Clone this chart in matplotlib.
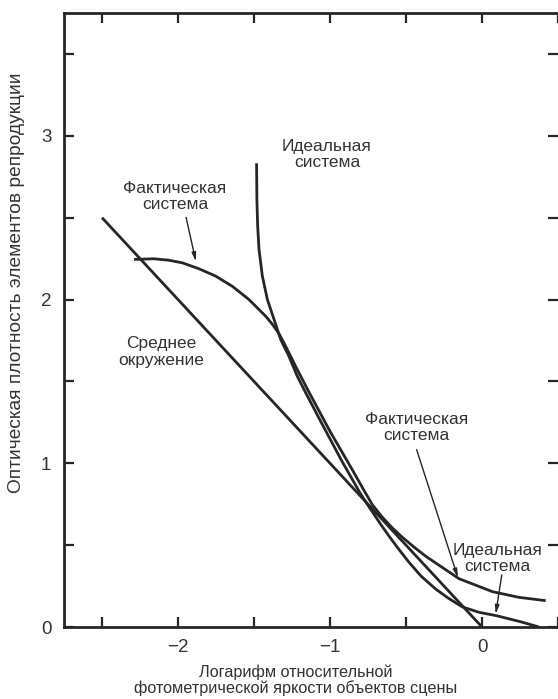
import matplotlib
matplotlib.use("Agg")
import matplotlib.pyplot as plt
from matplotlib.ticker import MultipleLocator, NullFormatter

plt.rcParams['font.family'] = ['Liberation Sans', 'DejaVu Sans']

# values
avg_x = [-2.5, 0.0]
avg_y = [2.5, 0.0]

ideal_x = [-1.483, -1.481, -1.476, -1.467, -1.445, -1.412, -1.368, -1.324, -1.270,
           -1.215, -1.165, -1.075, -0.920, -0.800, -0.735, -0.670, -0.610, -0.550,
           -0.480, -0.400, -0.305, -0.220, -0.130, -0.020, 0.100, 0.250, 0.375]
ideal_y = [2.832, 2.610, 2.450, 2.306, 2.143, 2.000, 1.878, 1.755, 1.653,
           1.531, 1.440, 1.280, 1.010, 0.815, 0.722, 0.632, 0.553, 0.478,
           0.395, 0.310, 0.232, 0.175, 0.123, 0.090, 0.068, 0.033, 0.0]

actual_x = [-2.289, -2.158, -2.060, -1.971, -1.862, -1.752, -1.643, -1.533, -1.423,
            -1.380, -1.336, -1.300, -1.265, -1.226, -1.150, -1.000, -0.850, -0.780,
            -0.720, -0.660, -0.590, -0.524, -0.450, -0.370, -0.300, -0.151, 0.068,
            0.243, 0.419]
actual_y = [2.245, 2.249, 2.240, 2.224, 2.188, 2.143, 2.081, 2.000, 1.898,
            1.850, 1.792, 1.730, 1.665, 1.592, 1.455, 1.195, 0.955, 0.840,
            0.745, 0.675, 0.605, 0.548, 0.490, 0.432, 0.388, 0.295, 0.216,
            0.181, 0.161]

x_major = [-2, -1, 0]
x_labels = ['\u22122', '\u22121', '0']
y_major = [0, 1, 2, 3]

ink = '#262626'
txt = '#333333'

fig = plt.figure(figsize=(5.58, 6.99), dpi=100)
ax = fig.add_axes([64 / 558, 72 / 699, 494 / 558, 614 / 699])

for xs, ys in ((avg_x, avg_y), (ideal_x, ideal_y), (actual_x, actual_y)):
    ax.plot(xs, ys, color=ink, lw=2.0, solid_capstyle='butt', solid_joinstyle='round')

ax.set_xlim(-2.75, 0.5)
ax.set_ylim(0, 3.75)

ax.set_xticks(x_major)
ax.set_xticklabels(x_labels)
ax.set_yticks(y_major)
ax.xaxis.set_minor_locator(MultipleLocator(0.5))
ax.yaxis.set_minor_locator(MultipleLocator(0.5))
ax.yaxis.set_minor_formatter(NullFormatter())
ax.xaxis.set_minor_formatter(NullFormatter())

for which in ('major', 'minor'):
    ax.tick_params(axis='both', which=which, direction='in', length=7, width=1.6,
                   color=ink, top=True, right=True, labelsize=13.5,
                   labelcolor=txt)
ax.tick_params(axis='x', which='major', pad=9)
ax.tick_params(axis='y', which='major', pad=9)

for side in ('left', 'top', 'bottom'):
    ax.spines[side].set_linewidth(2.0)
    ax.spines[side].set_color(ink)
ax.spines['right'].set_visible(False)

ax.set_ylabel('Оптическая плотность элементов репродукции', fontsize=13.8, color=txt)
ax.yaxis.set_label_coords(-(64 - 25) / 494, (627 - 283) / 614)

fig.text(296 / 558, 1 - 680 / 699,
         'Логарифм относительной\nфотометрической яркости объектов сцены',
         ha='center', va='center', fontsize=11.7, color=txt, linespacing=1.05)

fs = 12.5
notes = [
    (-1.02, 2.887, 'Идеальная\nсистема'),
    (-2.02, 2.63, 'Фактическая\nсистема'),
    (-2.11, 1.68, 'Среднее\nокружение'),
    (-0.43, 1.217, 'Фактическая\nсистема'),
    (0.10, 0.42, 'Идеальная\nсистема'),
]
for nx, ny, s in notes:
    ax.text(nx, ny, s, ha='center', va='center', fontsize=fs, color=txt,
            linespacing=1.1)

arrow = dict(arrowstyle='-|>,head_length=0.5,head_width=0.12', color=ink, lw=1.0,
             shrinkA=0, shrinkB=0)
ax.annotate('', xy=(-1.882, 2.232), xytext=(-1.947, 2.502), arrowprops=arrow)
ax.annotate('', xy=(-0.158, 0.30), xytext=(-0.43, 1.083), arrowprops=arrow)
ax.annotate('', xy=(0.09, 0.078), xytext=(0.13, 0.318), arrowprops=arrow)

fig.savefig('out.png', dpi=100)
